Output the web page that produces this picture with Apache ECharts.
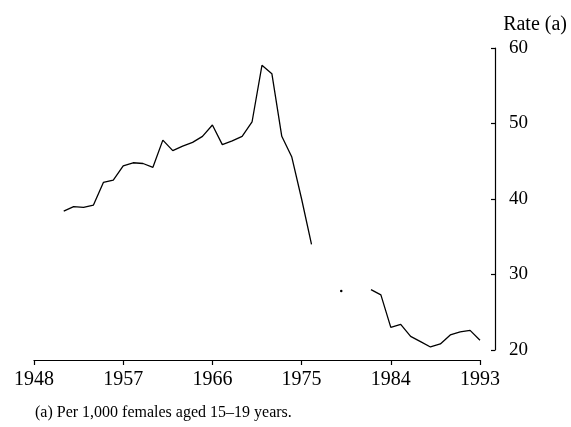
<!DOCTYPE html>
<html><head><meta charset="utf-8">
<script src="https://cdn.jsdelivr.net/npm/echarts@6/dist/echarts.min.js"></script>
<style>html,body{margin:0;padding:0;background:#fff}#c{width:571px;height:427px}</style>
</head><body><div id="c"></div>
<script>
const years = ['1948','1949','1950','1951','1952','1953','1954','1955','1956','1957',
  '1958','1959','1960','1961','1962','1963','1964','1965','1966','1967',
  '1968','1969','1970','1971','1972','1973','1974','1975','1976','1977',
  '1978','1979','1980','1981','1982','1983','1984','1985','1986','1987',
  '1988','1989','1990','1991','1992','1993'];
const rates = [null,null,null,38.4,39.0,38.9,39.2,42.2,42.5,44.4,
  44.8,44.7,44.2,47.8,46.4,47.0,47.5,48.3,49.8,47.2,
  47.7,48.3,50.2,57.7,56.6,48.3,45.6,40.0,34.0,null,
  null,27.8,null,null,28.0,27.3,23.0,23.4,21.8,21.1,
  20.4,20.8,22.0,22.4,22.6,21.3];
const xTickLabels = ['1948','1957','1966','1975','1984','1993'];
const yMin = 20, yMax = 60, yStep = 10;
const yTitle = 'Rate (a)';
const footnote = '(a) Per 1,000 females aged 15\u201319 years.';

const FONT = "'Liberation Serif','DejaVu Serif',serif";
const isLabelYear = (i, v) => xTickLabels.indexOf(years[i]) >= 0;

// isolated points (no neighbours) shown as small dots
const seriesData = rates.map((v, i) => {
  if (v === null) return null;
  const prev = i > 0 ? rates[i - 1] : null;
  const next = i < rates.length - 1 ? rates[i + 1] : null;
  if (prev === null && next === null) {
    return { value: v, symbol: 'circle', symbolSize: 2.5, itemStyle: { color: '#000' } };
  }
  return v;
});

const chart = echarts.init(document.getElementById('c'), null, { renderer: 'canvas' });
chart.setOption({
  animation: false,
  backgroundColor: '#fff',
  grid: { left: 34, right: 91, top: 48, bottom: 77, containLabel: false },
  xAxis: {
    type: 'category',
    data: years,
    boundaryGap: false,
    offset: 10,
    axisLine: { show: true, lineStyle: { color: '#000', width: 1.2 } },
    axisTick: { show: true, inside: false, length: 5, interval: isLabelYear, lineStyle: { color: '#000', width: 1.2 } },
    axisLabel: { interval: isLabelYear, margin: 10, color: '#000', fontFamily: FONT, fontSize: 20 },
    splitLine: { show: false }
  },
  yAxis: {
    type: 'value',
    position: 'right',
    min: yMin, max: yMax, interval: yStep,
    offset: 15,
    axisLine: { show: true, lineStyle: { color: '#000', width: 1.2 } },
    axisTick: { show: true, inside: true, length: 4, lineStyle: { color: '#000', width: 1.2 } },
    axisLabel: { margin: 14, color: '#000', fontFamily: FONT, fontSize: 19 },
    splitLine: { show: false }
  },
  series: [{
    type: 'line',
    data: seriesData,
    symbol: 'none',
    showSymbol: true,
    connectNulls: false,
    lineStyle: { color: '#000', width: 1.3 },
    itemStyle: { color: '#000' }
  }],
  graphic: [
    { type: 'text', right: 4, top: 15, style: { text: yTitle, fill: '#000', font: "20px " + FONT } },
    { type: 'text', left: 35, top: 405, style: { text: footnote, fill: '#000', font: "16px " + FONT } }
  ]
});
</script></body></html>
